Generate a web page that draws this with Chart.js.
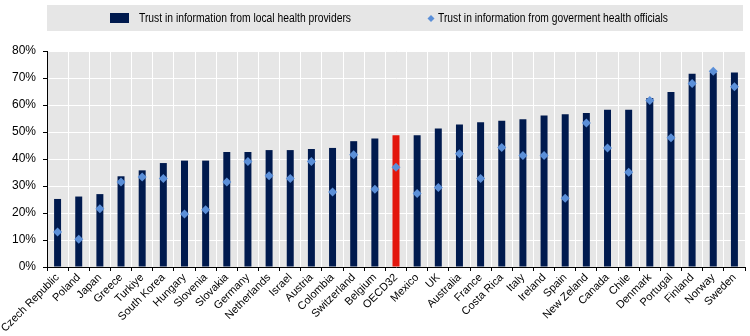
<!DOCTYPE html>
<html>
<head>
<meta charset="utf-8">
<script src="https://cdn.jsdelivr.net/npm/chart.js@4.4.0/dist/chart.umd.min.js"></script>
<style>
  html, body { margin: 0; padding: 0; background: #ffffff; }
  #wrap { width: 750px; height: 336px; position: relative; }
</style>
</head>
<body>
<div id="wrap"><canvas id="c" width="750" height="336"></canvas></div>
<script>
const categories = ["Czech Republic","Poland","Japan","Greece","Turkiye","South Korea","Hungary","Slovenia","Slovakia","Germany","Netherlands","Israel","Austria","Colombia","Switzerland","Belgium","OECD32","Mexico","UK","Australia","France","Costa Rica","Italy","Ireland","Spain","New Zeland","Canada","Chile","Denmark","Portugal","Finland","Norway","Sweden"];
const providers = [25.2,26.1,27.0,33.6,35.8,38.5,39.4,39.4,42.6,42.6,43.3,43.3,43.7,44.1,46.6,47.6,48.8,48.8,51.3,52.8,53.6,54.2,54.7,56.1,56.6,57.0,58.2,58.2,62.6,64.8,71.6,72.0,72.0];
const officials = [13.0,10.3,21.6,31.5,33.3,32.8,19.6,21.2,31.5,39.1,33.8,32.8,39.1,27.8,41.6,28.8,36.9,27.2,29.4,41.9,32.8,44.3,41.3,41.3,25.5,53.3,44.1,35.1,61.7,47.9,68.0,72.5,66.8];
const yTicks = [0,10,20,30,40,50,60,70,80];
const seriesNames = ["Trust in information from local health providers","Trust in information from goverment health officials"];

const NAVY = "#001a4e";
const RED = "#e3160d";
const BLUE = "#5b8fd8";

// pick a narrow font if one is installed
function hasFont(name) {
  const c = document.createElement("canvas").getContext("2d");
  const s = "Trust in information 0123456789";
  c.font = "20px monospace"; const a = c.measureText(s).width;
  c.font = "20px '" + name + "', monospace"; const b = c.measureText(s).width;
  return Math.abs(a - b) > 0.5;
}
const narrow = hasFont("Liberation Sans Narrow");
const FONT = narrow ? "'Liberation Sans Narrow', 'Liberation Sans', sans-serif" : "'Liberation Sans', Arial, sans-serif";
const xSize = narrow ? 12 : 11;
const ySize = narrow ? 13 : 12;

const barColors = categories.map(c => c === "OECD32" ? RED : NAVY);

function fitText(ctx, text, x, y, targetW) {
  const w = ctx.measureText(text).width;
  ctx.save();
  ctx.translate(x, y);
  ctx.scale(Math.min(1.05, targetW / w), 1);
  ctx.fillText(text, 0, 0);
  ctx.restore();
}

const bgPlugin = {
  id: "bg",
  beforeDraw(chart) {
    const {ctx, chartArea: a} = chart;
    ctx.save();
    ctx.fillStyle = "#e6e6e6";
    ctx.fillRect(a.left, a.top, a.right - a.left, a.bottom - a.top);
    // legend band
    ctx.fillRect(47, 5, 696, 26);
    ctx.fillStyle = NAVY;
    ctx.fillRect(110, 13, 19, 10);
    ctx.fillStyle = "#000000";
    ctx.font = "12px " + FONT;
    ctx.textBaseline = "middle";
    ctx.textAlign = "left";
    fitText(ctx, chart.data.datasets[0].label, 139, 18.5, 212);
    // diamond
    ctx.fillStyle = BLUE;
    ctx.beginPath();
    ctx.moveTo(431, 15); ctx.lineTo(434.5, 18.5); ctx.lineTo(431, 22); ctx.lineTo(427.5, 18.5);
    ctx.closePath(); ctx.fill();
    ctx.fillStyle = "#000000";
    fitText(ctx, chart.data.datasets[1].label, 438, 18.5, 230);
    ctx.restore();
  }
};

new Chart(document.getElementById("c"), {
  data: {
    labels: categories,
    datasets: [
      {
        type: "bar",
        label: seriesNames[0],
        data: providers,
        backgroundColor: barColors,
        borderWidth: 0,
        categoryPercentage: 1.0,
        barPercentage: 0.33,
        order: 1
      },
      {
        type: "line",
        label: seriesNames[1],
        data: officials,
        showLine: false,
        pointStyle: "rectRot",
        pointRadius: 4.5,
        pointHoverRadius: 4.5,
        pointBackgroundColor: BLUE,
        pointBorderColor: BLUE,
        pointBorderWidth: 0,
        order: 0
      }
    ]
  },
  options: {
    responsive: false,
    animation: false,
    devicePixelRatio: 1,
    layout: { padding: { top: 51, right: 5, left: 0, bottom: 0 } },
    plugins: {
      legend: { display: false },
      tooltip: { enabled: false }
    },
    scales: {
      x: {
        offset: true,
        grid: { color: "#ffffff", lineWidth: 1, offset: true, tickColor: "#000000", tickLength: 4, drawOnChartArea: true },
        border: { display: true, color: "#000000", width: 1 },
        ticks: {
          color: "#000000",
          font: { family: FONT, size: xSize },
          maxRotation: 45, minRotation: 45,
          autoSkip: false,
          padding: 0
        },
        afterFit(scale) { scale.height = 69; }
      },
      y: {
        min: 0, max: 80,
        afterBuildTicks(scale) { scale.ticks = yTicks.map(v => ({ value: v })); },
        grid: { color: "#ffffff", lineWidth: 1, tickColor: "#000000", tickLength: 4 },
        border: { display: true, color: "#000000", width: 1 },
        ticks: {
          color: "#000000",
          font: { family: FONT, size: ySize },
          padding: 7,
          callback: v => v + "%"
        },
        afterFit(scale) { scale.width = 47; }
      }
    }
  },
  plugins: [bgPlugin]
});
</script>
</body>
</html>
